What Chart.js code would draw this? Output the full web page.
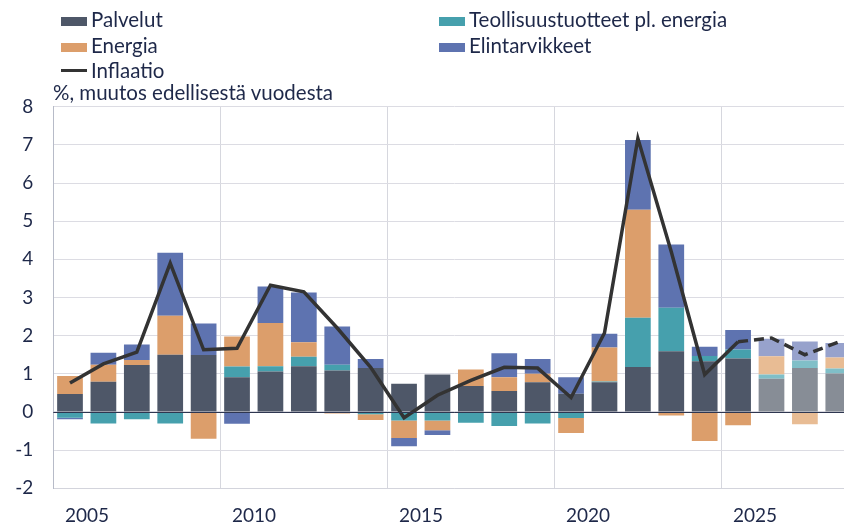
<!DOCTYPE html>
<html>
<head>
<meta charset="utf-8">
<script src="https://cdn.jsdelivr.net/npm/chart.js@4.4.1/dist/chart.umd.min.js"></script>
<style>
html,body{margin:0;padding:0;overflow:hidden;background:#fff;}
#wrap{position:relative;width:856px;height:527px;}
.txt{position:absolute;font-family:Lato,sans-serif;font-size:20.5px;line-height:20px;color:#1e2849;white-space:nowrap;}
.sw{position:absolute;width:26px;height:9px;}
.ln{position:absolute;width:26px;height:3px;background:#333;}
</style>
</head>
<body>
<div id="wrap">
 <canvas id="chart"></canvas>
 <div id="legend"></div>
 <div class="txt" style="left:53px;top:82px">%, muutos edellisestä vuodesta</div>
</div>
<script>
// vuodet 2005-2028, ennuste 2026 ->
const years=[2005,2006,2007,2008,2009,2010,2011,2012,2013,2014,2015,2016,2017,2018,2019,2020,2021,2022,2023,2024,2025,2026,2027,2028];
const tickYears=[2005,2010,2015,2020,2025];
const forecastFrom=2026;

const palvelut=[0.47,0.79,1.23,1.50,1.49,0.91,1.06,1.20,1.09,1.15,0.74,0.98,0.68,0.55,0.78,0.48,0.78,1.18,1.59,1.33,1.40,0.87,1.15,1.01];
const teollisuus=[-0.15,-0.30,-0.19,-0.30,0,0.28,0.14,0.25,0.15,-0.06,-0.22,-0.22,-0.28,-0.37,-0.30,-0.16,0.02,1.29,1.14,0.14,0.24,0.11,0.20,0.13];
const energia=[0.47,0.45,0.13,1.02,-0.70,0.79,1.13,0.38,-0.04,-0.15,-0.46,-0.26,0.43,0.36,0.22,-0.39,0.89,2.83,-0.09,-0.76,-0.35,0.48,-0.32,0.29];
const elintarvikkeet=[-0.04,0.31,0.41,1.65,0.83,-0.31,0.96,1.30,1.00,0.24,-0.22,-0.12,0,0.63,0.39,0.43,0.36,1.83,1.66,0.24,0.51,0.46,0.50,0.38];
const inflaatio=[0.76,1.26,1.57,3.90,1.63,1.67,3.32,3.15,2.20,1.17,-0.15,0.44,0.83,1.17,1.15,0.38,2.07,7.17,4.20,0.98,1.84,1.94,1.50,1.83];

function cols(c,light){
 return years.map(y=>y>=forecastFrom?light:c);
}

const barSets=[
 {label:'Palvelut',data:palvelut,c:'#4e5768',l:'#878d96'},
 {label:'Teollisuustuotteet pl. energia',data:teollisuus,c:'#46a0ad',l:'#80bfc8'},
 {label:'Energia',data:energia,c:'#dc9e6b',l:'#e8bc94'},
 {label:'Elintarvikkeet',data:elintarvikkeet,c:'#5e73b0',l:'#97a2cc'}
];

// legenda kahteen sarakkeeseen
const leg=[
 {i:0,x:61,y:9},{i:1,x:439,y:9},
 {i:2,x:61,y:34.5},{i:3,x:439,y:34.5}
];
let h='';
leg.forEach(o=>{
 const s=barSets[o.i];
 h+='<div class="sw" style="left:'+o.x+'px;top:'+(o.y+8)+'px;background:'+s.c+'"></div>';
 h+='<div class="txt" style="left:'+(o.x+30)+'px;top:'+o.y+'px">'+s.label+'</div>';
});
h+='<div class="ln" style="left:61px;top:69px"></div>';
h+='<div class="txt" style="left:91px;top:60px">Inflaatio</div>';
document.getElementById('legend').innerHTML=h;

const zeroLine={
 id:'zeroLine',
 afterDatasetsDraw(chart){
  const y=chart.scales.y.getPixelForValue(0);
  const a=chart.chartArea;
  const ctx=chart.ctx;
  ctx.save();
  ctx.strokeStyle='#2e3650';
  ctx.lineWidth=1;
  ctx.beginPath();
  ctx.moveTo(a.left,Math.round(y)+0.5);
  ctx.lineTo(a.right,Math.round(y)+0.5);
  ctx.stroke();
  ctx.restore();
 }
};

Chart.defaults.font.family='Lato, sans-serif';
Chart.defaults.font.size=19;
Chart.defaults.color='#1e2849';

const datasets=barSets.map(s=>({
 type:'bar',
 label:s.label,
 data:s.data,
 backgroundColor:cols(s.c,s.l),
 borderWidth:0,
 categoryPercentage:1,
 barPercentage:0.77,
 order:1
}));
datasets.push({
 type:'line',
 label:'Inflaatio',
 data:inflaatio,
 borderColor:'#333333',
 borderWidth:3.5,
 pointRadius:0,
 tension:0,
 stack:'inf',
 order:0,
 segment:{borderDash:c=>years[c.p0DataIndex]>=2025?[10,6]:undefined}
});

new Chart(document.getElementById('chart'),{
 data:{labels:years,datasets:datasets},
 options:{
  responsive:true,
  maintainAspectRatio:false,
  animation:false,
  layout:{padding:{top:106.7,right:1,left:0,bottom:0}},
  plugins:{legend:{display:false},tooltip:{enabled:false}},
  scales:{
   x:{
    stacked:true,
    grid:{offset:true,drawTicks:false,color:c=>tickYears.includes(years[c.index])?'#d6d7de':'transparent'},
    border:{color:'#d3d4dc'},
    ticks:{autoSkip:false,maxRotation:0,padding:16,labelOffset:17,
     callback:(v,i)=>tickYears.includes(years[i])?String(years[i]):''},
    afterFit:s=>{s.height=38.7;}
   },
   y:{
    stacked:true,
    min:-2,max:8,
    grid:{drawTicks:false,color:'#dcdce3'},
    border:{color:'#b7bbc8'},
    ticks:{stepSize:1,padding:20},
    afterFit:s=>{s.width=53.3;}
   }
  }
 },
 plugins:[zeroLine]
});
</script>
</body>
</html>
